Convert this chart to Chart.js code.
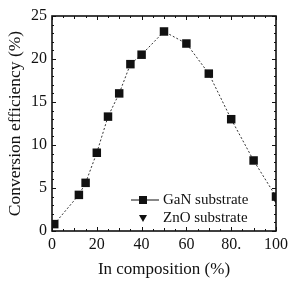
<!DOCTYPE html>
<html><head><meta charset="utf-8">
<script src="https://cdn.jsdelivr.net/npm/chart.js@4/dist/chart.umd.min.js"></script>
<style>html,body{margin:0;padding:0;background:#fff}#w{width:292px;height:282px}</style>
</head><body><div id="w"><canvas id="c"></canvas></div>
<script>
const inComposition = [1, 12, 15, 20, 25, 30, 35, 40, 50, 60, 70, 80, 90, 100];
const ganEfficiency = [0.8, 4.2, 5.6, 9.1, 13.3, 16.0, 19.4, 20.5, 23.2, 21.8, 18.3, 13.0, 8.2, 4.0];
const znoComposition = [100];
const znoEfficiency = [3.6];
const xTicks = [0, 20, 40, 60, 80, 100];
const yTicks = [0, 5, 10, 15, 20, 25];
const xTickLabels = ['0', '20', '40', '60', '80.', '100'];
const seriesNames = ['GaN substrate', 'ZnO substrate'];

const FONT = "'Liberation Serif', 'Times New Roman', serif";
const ink = '#111';

const frame = {
  id: 'frame',
  afterDraw(chart) {
    const {ctx, chartArea: a, scales: {x, y}} = chart;
    ctx.save();
    ctx.strokeStyle = ink;
    ctx.lineWidth = 1.6;
    ctx.strokeRect(a.left, a.top, a.right - a.left, a.bottom - a.top);
    ctx.lineWidth = 1;
    ctx.beginPath();
    for (let v = 0; v <= 100; v += 5) {
      const px = Math.round(x.getPixelForValue(v)) + 0.5;
      const len = v % 20 === 0 ? 4 : (v % 10 === 0 ? 3 : 2);
      ctx.moveTo(px, a.bottom); ctx.lineTo(px, a.bottom - len);
      ctx.moveTo(px, a.top); ctx.lineTo(px, a.top + len);
    }
    for (let v = 0; v <= 25; v += 1) {
      const py = Math.round(y.getPixelForValue(v)) + 0.5;
      const len = v % 5 === 0 ? 4 : 2;
      ctx.moveTo(a.left, py); ctx.lineTo(a.left + len, py);
      ctx.moveTo(a.right, py); ctx.lineTo(a.right - len, py);
    }
    ctx.stroke();
    // legend
    const lx = 143, r1 = 200, r2 = 218;
    ctx.strokeStyle = ink; ctx.lineWidth = 1;
    ctx.beginPath(); ctx.moveTo(131, r1); ctx.lineTo(159, r1); ctx.stroke();
    ctx.fillStyle = ink;
    ctx.fillRect(lx - 4, r1 - 4, 8, 8);
    ctx.beginPath(); ctx.moveTo(lx - 4, r2 - 3); ctx.lineTo(lx + 4, r2 - 3); ctx.lineTo(lx, r2 + 4); ctx.closePath(); ctx.fill();
    ctx.font = '15px ' + FONT;
    ctx.textBaseline = 'middle';
    ctx.fillText(seriesNames[0], 163, r1);
    ctx.fillText(seriesNames[1], 163, r2);
    ctx.restore();
  }
};

new Chart(document.getElementById('c'), {
  type: 'scatter',
  data: {
    datasets: [
      {
        label: seriesNames[0],
        data: inComposition.map((v, i) => ({x: v, y: ganEfficiency[i]})),
        showLine: true,
        borderColor: '#333',
        borderWidth: 1,
        borderDash: [2, 2],
        backgroundColor: ink,
        pointStyle: 'rect',
        pointRadius: 6,
        pointBorderWidth: 0,
        pointBackgroundColor: ink
      },
      {
        label: seriesNames[1],
        data: znoComposition.map((v, i) => ({x: v, y: znoEfficiency[i]})),
        pointStyle: 'triangle',
        rotation: 180,
        pointRadius: 4,
        pointBorderWidth: 0,
        pointBackgroundColor: ink,
        backgroundColor: ink
      }
    ]
  },
  options: {
    responsive: true,
    maintainAspectRatio: false,
    animation: false,
    layout: {padding: {top: 16, right: 13, left: 0, bottom: 0}},
    plugins: {legend: {display: false}, tooltip: {enabled: false}},
    scales: {
      x: {
        type: 'linear', min: 0, max: 100,
        afterBuildTicks: s => { s.ticks = xTicks.map(v => ({value: v})); },
        afterFit: s => { s.height = 51; },
        grid: {display: false, drawTicks: false},
        border: {display: false},
        ticks: {padding: 4, color: ink, font: {family: FONT, size: 16},
                callback: (v) => xTickLabels[xTicks.indexOf(v)]},
        title: {display: true, text: 'In composition (%)', color: ink,
                font: {family: FONT, size: 17}, padding: {top: 0, bottom: 2}}
      },
      y: {
        type: 'linear', min: 0, max: 25,
        afterBuildTicks: s => { s.ticks = yTicks.map(v => ({value: v})); },
        afterFit: s => { s.width = 52; },
        grid: {display: false, drawTicks: false},
        border: {display: false},
        ticks: {padding: 5, color: ink, font: {family: FONT, size: 16}},
        title: {display: true, text: 'Conversion efficiency (%)', color: ink,
                font: {family: FONT, size: 17.5}, padding: {top: 5, bottom: 0}}
      }
    }
  },
  plugins: [frame]
});
</script>
</body></html>
